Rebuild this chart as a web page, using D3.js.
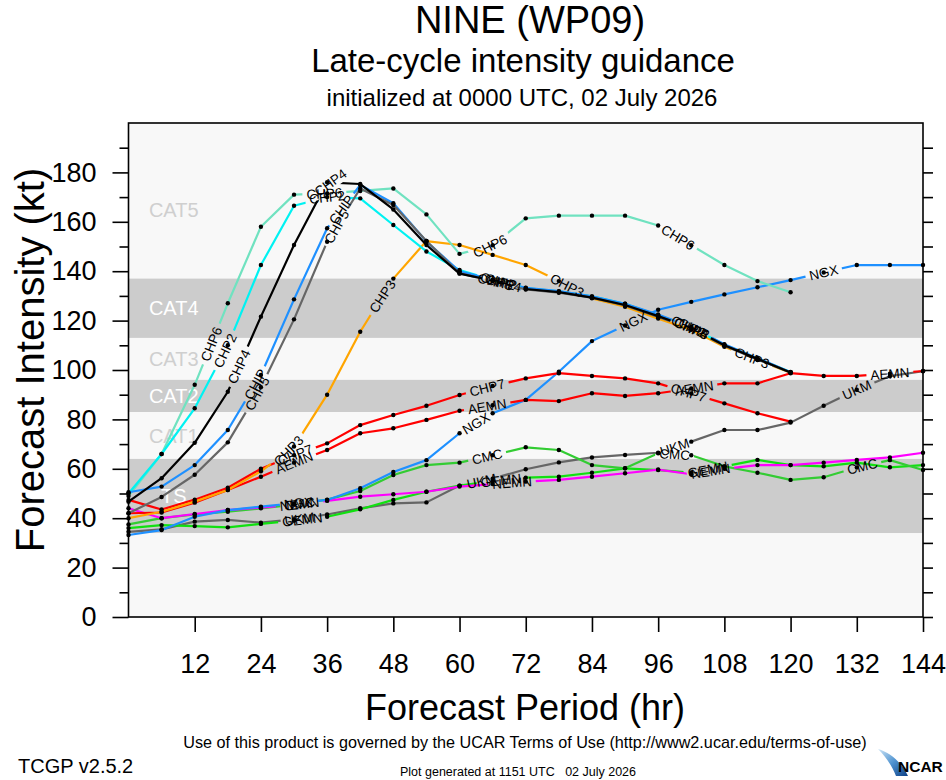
<!DOCTYPE html>
<html><head><meta charset="utf-8">
<script src="https://cdn.jsdelivr.net/npm/d3@7"></script>
<style>
body{margin:0;background:#fff}
svg{display:block}
text{font-family:"Liberation Sans",Arial,Helvetica,sans-serif}
</style>
</head><body>
<svg id="c" width="946" height="780"></svg>
<script>
// ---------------- data ----------------
const hours = [0,6,12,18,24,30,36,42,48,54,60,66,72,78,84,90,96,102,108,114,120,126,132,138,144];
const xTickValues = [12,24,36,48,60,72,84,96,108,120,132,144];
const yTickValues = [0,20,40,60,80,100,120,140,160,180];
const yMinorValues = [10,30,50,70,90,110,130,150,170,190];
const bandLows  = [34, 83, 113];
const bandHighs = [64, 96, 137];
const catNames  = ["TS","CAT1","CAT2","CAT3","CAT4","CAT5"];
const catLevels = [49, 73.5, 89.5, 104.5, 125, 165];
const catOnBand = [true,false,true,false,true,false];

const chp6 = [49,66,94,127,158,171,171.5,172.5,173.5,163,147,150.5,161.4,162.5,162.5,162.5,158.5,150.5,142.5,136,131.5,null,null,null,null];
const chp2 = [50,66,84.5,110,142.5,166.5,170,169.5,158.7,148,140.5,136.5,133.2,131.8,129.8,126.8,122.2,117.2,110.2,104.6,99.2,null,null,null,null];
const chp4 = [46.7,56.2,70.5,91.2,121.6,150.6,176,175.3,165,150.6,139,136.2,132.8,131.5,129.3,126.3,121.8,117,110,104.5,99,null,null,null,null];
const chip = [50.5,52.8,61.5,75.7,98,128.6,157.4,174.9,167.5,152,140,136.6,133.3,131.9,129.8,126.8,122.5,117.4,110.4,104.8,99.1,null,null,null,null];
const chp5 = [42,48.6,57.6,70.7,93,120.5,151.9,173.5,166.8,152.2,139.2,136,132.6,131.3,129.3,126.1,121.5,116.8,109.8,104.3,99,null,null,null,null];
const chp3 = [40,42.6,46.7,51.4,59,69,90,115.5,137,152.2,150.6,146.6,142.5,136,129,125.6,120.8,116.3,109.4,104,98.9,null,null,null,null];
const chp7 = [47.4,43.5,47.5,52.3,60,65.5,70.3,77.7,81.8,85.5,89.9,93.5,96.6,98.7,97.6,96.6,94.6,90.5,86.5,82.5,79.1,null,null,null,null];
const aemn = [42,42.3,46.3,51.4,56.8,62.5,67.6,74.4,76.4,79.8,83.5,85.7,87.9,87.4,90.6,89.5,90.6,92.5,94.6,94.6,98.7,97.6,97.6,98.5,99.6];
const ngx  = [33.2,35.2,40.6,43.3,44.7,46,47.4,52.1,58.7,63.5,74.4,82.5,87.9,99.3,111.7,118,124.4,127.6,130.6,133.5,136.4,139.5,142.5,142.5,142.5];
const nemn = [44,40,41.7,43.3,44.3,45.5,47,48.7,49.7,50.7,52.8,53.8,54.8,55.5,56.8,58.2,59.7,57.8,60,61.5,61.5,62.5,63.6,64.6,66.5];
const cmc  = [37.5,40,41.5,42.6,44,45.5,47.5,51,57.5,61.5,62.5,65.5,68.7,67.6,61.5,60.2,66.3,65.5,61,58.4,55.5,56.6,60.5,63.5,59.5];
const gemn = [36,37.2,36.8,36.3,37.7,39,40.6,43.6,47.4,50.7,53.2,55,56.4,56.8,58.4,60.2,59.5,58.5,61,63.6,61.5,61,62.5,60.6,61.5];
const ukm  = [34.5,35.5,38.6,39.3,38.2,39.5,41.5,44,46,46.4,53.2,56,59.8,62.6,64.6,65.6,66.5,71,75.7,75.7,78.7,85.5,92,97.5,99.5];

const modelNames  = ["UKM","GEMN","CMC","NEMN","NGX","AEMN","CHP7","CHP3","CHP6","CHP2","CHIP","CHP5","CHP4"];
const modelValues = [ukm, gemn, cmc, nemn, ngx, aemn, chp7, chp3, chp6, chp2, chip, chp5, chp4];
const modelColors = ["#666666","#11e011","#33cc33","#ff00ff","#1e90ff","#ff0000","#ff0000","#ffa500","#70e2c0","#00f2f2","#1e90ff","#666666","#000000"];
const labelHours  = [
  [31,64,99,132],      // UKM
  [31.5,67.5,105],     // GEMN
  [31,65,99,133],      // CMC
  [31,69.5,105.5],     // NEMN
  [30.8,63,91.5,126],  // NGX
  [30,65,102.5,138],   // AEMN
  [30.2,65,101.5],     // CHP7
  [29,46,79.5,113],    // CHP3
  [15,35.5,65.5,99.6], // CHP6
  [17.5,36,67,101.5],  // CHP2
  [23,38.6,67.5,102.5],// CHIP
  [23.3,37.7,66.5,102],// CHP5
  [20,36.6,68,102]     // CHP4
];

// ---------------- chart ----------------
const W = 946, H = 780;
const LFS = 13.5;
const svg = d3.select("#c");
const defs = svg.append("defs");
const x = d3.scaleLinear().domain([0,144]).range([128.5,923]);
const y = d3.scaleLinear().domain([0,200]).range([617,123]);
const FONT = '"Liberation Sans",Arial,Helvetica,sans-serif';

// titles
svg.append("text").attr("x",530).attr("y",33).attr("text-anchor","middle").attr("font-size",38).text("NINE (WP09)");
svg.append("text").attr("x",523).attr("y",72).attr("text-anchor","middle").attr("font-size",33).text("Late-cycle intensity guidance");
svg.append("text").attr("x",522).attr("y",106).attr("text-anchor","middle").attr("font-size",24).text("initialized at 0000 UTC, 02 July 2026");

// plot background and category bands
const plot = svg.append("g");
plot.append("rect").attr("x",x(0)).attr("y",y(200)).attr("width",x(144)-x(0)).attr("height",y(0)-y(200)).attr("fill","#f8f8f8");
plot.selectAll("rect.band").data(bandLows).enter().append("rect").attr("class","band")
  .attr("x",x(0)).attr("width",x(144)-x(0))
  .attr("y",(d,i)=>y(bandHighs[i])).attr("height",(d,i)=>y(d)-y(bandHighs[i]))
  .attr("fill","#cccccc");
plot.selectAll("text.cat").data(catNames).enter().append("text").attr("class","cat")
  .attr("x",x(8.2)).attr("y",(d,i)=>y(catLevels[i])).attr("dy","0.36em")
  .attr("text-anchor","middle").attr("font-size",20)
  .attr("fill",(d,i)=>catOnBand[i]?"#ffffff":"#cfcfcf").text(d=>d);

// helpers
function seriesPoints(vals){ return hours.map((h,j)=>({h:h,v:vals[j]})).filter(d=>d.v!=null); }
function valueAt(pts,h){
  if(h<=pts[0].h) return pts[0].v;
  if(h>=pts[pts.length-1].h) return pts[pts.length-1].v;
  for(let k=0;k<pts.length-1;k++){
    if(h>=pts[k].h && h<=pts[k+1].h){
      const t=(h-pts[k].h)/(pts[k+1].h-pts[k].h);
      return pts[k].v+t*(pts[k+1].v-pts[k].v);
    }
  }
}
const measurer = svg.append("text").attr("font-size",LFS).attr("visibility","hidden");
function textW(s){ measurer.text(s); return measurer.node().getComputedTextLength(); }

const line = d3.line().x(d=>x(d.h)).y(d=>y(d.v));
const linesG = svg.append("g");
const dotsG = svg.append("g");
const labelsG = svg.append("g");

modelNames.forEach((name,i)=>{
  const pts = seriesPoints(modelValues[i]);
  const tw = textW(name);
  const labs = labelHours[i].map(h=>{
    const h1=Math.max(pts[0].h,h-3), h2=Math.min(pts[pts.length-1].h,h+3);
    const ang = Math.atan2(y(valueAt(pts,h2))-y(valueAt(pts,h1)), x(h2)-x(h1))*180/Math.PI;
    return {cx:x(h), cy:y(valueAt(pts,h)), ang:ang};
  });
  const m = defs.append("mask").attr("id","m"+i).attr("maskUnits","userSpaceOnUse")
    .attr("x",0).attr("y",0).attr("width",W).attr("height",H);
  m.append("rect").attr("x",0).attr("y",0).attr("width",W).attr("height",H).attr("fill","#fff");
  labs.forEach(l=>{
    m.append("rect").attr("x",-tw/2-4).attr("y",-7).attr("width",tw+8).attr("height",14)
      .attr("fill","#000").attr("transform",`translate(${l.cx},${l.cy}) rotate(${l.ang})`);
  });
  linesG.append("path").datum(pts).attr("d",line).attr("fill","none")
    .attr("stroke",modelColors[i]).attr("stroke-width",2.2).attr("stroke-linejoin","round")
    .attr("mask",`url(#m${i})`);
  dotsG.selectAll(null).data(pts).enter().append("circle")
    .attr("cx",d=>x(d.h)).attr("cy",d=>y(d.v)).attr("r",2.2).attr("fill","#000");
  labs.forEach(l=>{
    labelsG.append("text").attr("transform",`translate(${l.cx},${l.cy}) rotate(${l.ang})`)
      .attr("text-anchor","middle").attr("dy","0.36em").attr("font-size",LFS).attr("fill","#000").text(name);
  });
});
measurer.remove();

// frame and axes
svg.append("rect").attr("x",x(0)).attr("y",y(200)).attr("width",x(144)-x(0)).attr("height",y(0)-y(200))
  .attr("fill","none").attr("stroke","#000").attr("stroke-width",1.6);

function styleAxis(g,fs){
  g.select(".domain").remove();
  g.selectAll("line").attr("stroke","#000").attr("stroke-width",1.6);
  g.selectAll("text").attr("font-size",fs).attr("font-family",FONT).attr("fill","#000");
}
const yAx = svg.append("g").attr("transform",`translate(${x(0)},0)`)
  .call(d3.axisLeft(y).tickValues(yTickValues).tickSize(16).tickPadding(16).tickFormat(d3.format("d")));
styleAxis(yAx,27);
const yAxMinor = svg.append("g").attr("transform",`translate(${x(0)},0)`)
  .call(d3.axisLeft(y).tickValues(yMinorValues).tickSize(9).tickFormat(""));
styleAxis(yAxMinor,1);
const yAxR = svg.append("g").attr("transform",`translate(${x(144)},0)`)
  .call(d3.axisRight(y).tickValues(yTickValues.concat(yMinorValues)).tickSize(10).tickFormat(""));
styleAxis(yAxR,1);
const xAx = svg.append("g").attr("transform",`translate(0,${y(0)})`)
  .call(d3.axisBottom(x).tickValues(xTickValues).tickSize(15).tickPadding(22).tickFormat(d3.format("d")));
styleAxis(xAx,27);

// axis titles
svg.append("text").attr("transform","translate(44,360) rotate(-90)").attr("text-anchor","middle")
  .attr("font-size",40).text("Forecast Intensity (kt)");
svg.append("text").attr("x",525).attr("y",720).attr("text-anchor","middle").attr("font-size",36).text("Forecast Period (hr)");

// footer
svg.append("text").attr("x",525).attr("y",748).attr("text-anchor","middle").attr("font-size",16.2)
  .text("Use of this product is governed by the UCAR Terms of Use (http://www2.ucar.edu/terms-of-use)");
svg.append("text").attr("x",18).attr("y",773).attr("font-size",20).text("TCGP v2.5.2");
svg.append("text").attr("x",518).attr("y",776).attr("text-anchor","middle").attr("font-size",12.5)
  .attr("xml:space","preserve").style("white-space","pre").text("Plot generated at 1151 UTC   02 July 2026");

// NCAR logo
const grad = defs.append("linearGradient").attr("id","ncarg").attr("x1","0").attr("y1","0").attr("x2","1").attr("y2","1");
grad.append("stop").attr("offset","0").attr("stop-color","#cfe6f7");
grad.append("stop").attr("offset","0.5").attr("stop-color","#4f93d0");
grad.append("stop").attr("offset","1").attr("stop-color","#0b3f86");
svg.append("path").attr("d","M878,749 C891,753 902,763 908,776 L896,776 C892,766 886,757 878,749 Z").attr("fill","url(#ncarg)");
svg.append("text").attr("x",898).attr("y",772).attr("font-size",15.5).attr("font-weight","bold").text("NCAR");
</script>
</body></html>
